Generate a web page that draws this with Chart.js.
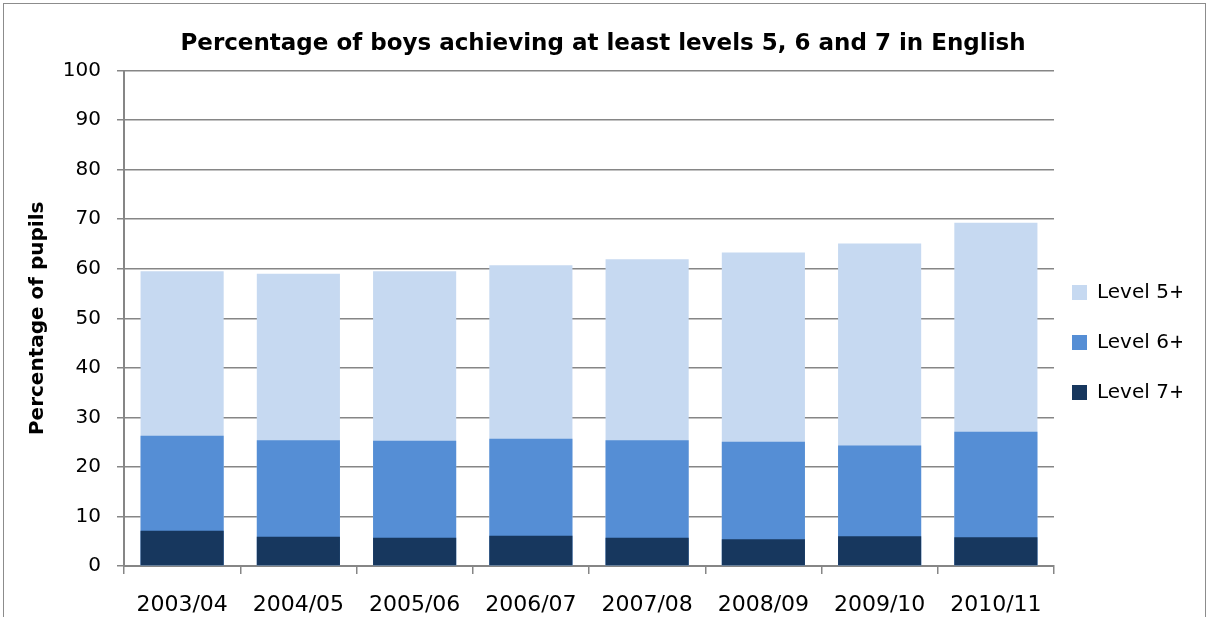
<!DOCTYPE html>
<html>
<head>
<meta charset="utf-8">
<script src="https://cdn.jsdelivr.net/npm/chart.js@4/dist/chart.umd.min.js"></script>
<style>
  html, body { margin: 0; padding: 0; background: #fff; overflow: hidden; }
  #wrap { position: relative; width: 1211px; height: 617px; }
  #frame { position: absolute; left: 3px; top: 3px; width: 1203px; height: 700px; border: 1px solid #8c8c8c; box-sizing: border-box; pointer-events: none; }
  canvas { position: absolute; left: 0; top: 0; }
</style>
</head>
<body>
<div id="wrap">
  <canvas id="chart" width="1211" height="617"></canvas>
  <div id="frame"></div>
</div>
<script>
const years = ['2003/04', '2004/05', '2005/06', '2006/07', '2007/08', '2008/09', '2009/10', '2010/11'];
const level5 = [59.5, 59.0, 59.5, 60.7, 61.9, 63.3, 65.1, 69.3];
const level6 = [26.3, 25.4, 25.3, 25.7, 25.4, 25.1, 24.3, 27.1];
const level7 = [7.1, 5.9, 5.7, 6.1, 5.7, 5.4, 6.0, 5.8];
const yTicks = [0, 10, 20, 30, 40, 50, 60, 70, 80, 90, 100];

const FONT = "'DejaVu Sans', sans-serif";
const axisGrey = '#868686';

// nudge the legend closer to the plot and a bit lower, like the original
const legendNudge = {
  id: 'legendNudge',
  afterLayout(chart) {
    const l = chart.legend;
    if (!l) return;
    l.left -= 12; l.right -= 12;
    l.top += 31; l.bottom += 31;
  }
};

new Chart(document.getElementById('chart'), {
  type: 'bar',
  data: {
    labels: years,
    datasets: [
      { label: 'Level 5+', data: level5, backgroundColor: '#c6d9f1', order: 3 },
      { label: 'Level 6+', data: level6, backgroundColor: '#558ed5', order: 2 },
      { label: 'Level 7+', data: level7, backgroundColor: '#17375e', order: 1 },
    ]
  },
  plugins: [legendNudge],
  options: {
    responsive: false,
    animation: false,
    layout: { padding: { left: 12, right: 17, top: 10, bottom: 4 } },
    datasets: { bar: { barPercentage: 0.715, categoryPercentage: 1.0 } },
    plugins: {
      title: {
        display: true,
        text: 'Percentage of boys achieving at least levels 5, 6 and 7 in English',
        color: '#000',
        font: { family: FONT, size: 23, weight: 'bold' },
        padding: { top: 20, bottom: 13 }
      },
      legend: {
        position: 'right',
        reverse: true,
        maxWidth: 140,
        labels: {
          color: '#000',
          font: { family: FONT, size: 20 },
          boxWidth: 15,
          boxHeight: 15,
          padding: 30
        }
      },
      tooltip: { enabled: false }
    },
    scales: {
      x: {
        stacked: true,
        afterFit: s => { s.height = 47; },
        grid: { display: true, drawOnChartArea: false, drawTicks: true, tickLength: 8, color: axisGrey, lineWidth: 1.5 },
        border: { display: true, color: axisGrey, width: 2 },
        ticks: { color: '#000', font: { family: FONT, size: 22, lineHeight: 1 }, padding: 20, maxRotation: 0 }
      },
      y: {
        stacked: false,
        min: 0,
        max: 100,
        afterFit: s => { s.width = 112; },
        afterBuildTicks: s => { s.ticks = yTicks.map(v => ({ value: v })); },
        grid: { color: axisGrey, lineWidth: 1.5, tickLength: 7 },
        border: { display: true, color: axisGrey, width: 2 },
        ticks: { color: '#000', font: { family: FONT, size: 20 }, padding: 16 },
        title: {
          display: true,
          text: 'Percentage of pupils',
          color: '#000',
          font: { family: FONT, size: 20, weight: 'bold' },
          padding: { top: 14, bottom: 13 }
        }
      }
    }
  }
});
</script>
</body>
</html>
